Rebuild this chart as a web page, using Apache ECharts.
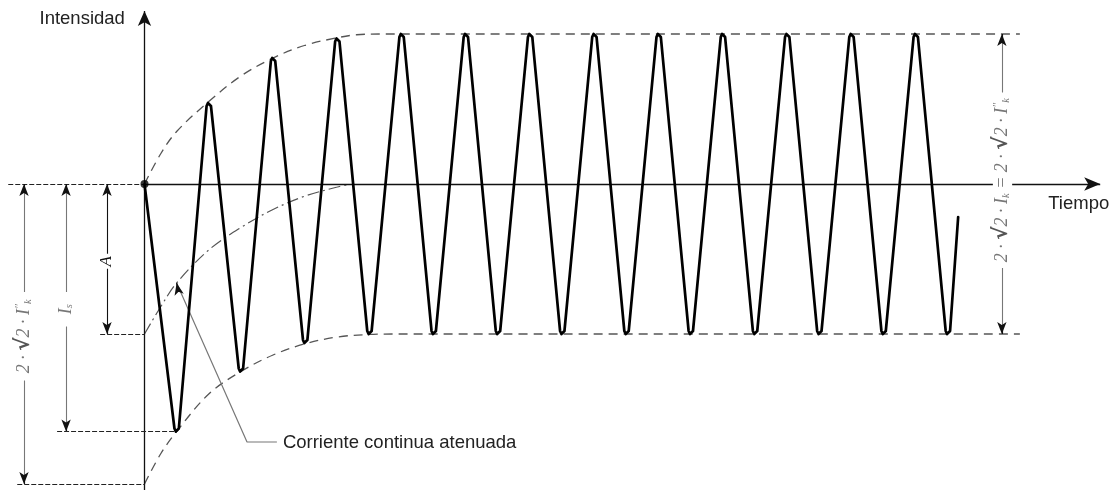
<!DOCTYPE html>
<html>
<head>
<meta charset="utf-8">
<script src="https://cdn.jsdelivr.net/npm/echarts@6/dist/echarts.min.js"></script>
<style>
  html, body { margin: 0; padding: 0; background: #fff; }
  #grafico { width: 1111px; height: 493px; }
</style>
</head>
<body>
<div id="grafico"></div>
<script>
// Tiempo en ciclos de red; intensidad referida a la amplitud √2·I″k de la componente alterna.

// Corriente de cortocircuito (máximos y mínimos de cada semiciclo)
const tiempoCorriente = [0, 0.5, 1, 1.5, 2, 2.5, 3, 3.5, 4, 4.5, 5, 5.5, 6, 6.5, 7, 7.5, 8, 8.5, 9, 9.5, 10, 10.5, 11, 11.5, 12, 12.5, 12.66];
const corriente = [0, -1.65, 0.54, -1.25, 0.84, -1.06, 0.97, -1.0, 1.0, -1.0, 1.0, -1.0, 1.0, -1.0, 1.0, -1.0, 1.0, -1.0, 1.0, -1.0, 1.0, -1.0, 1.0, -1.0, 1.0, -1.0, -0.22];

// Envolvente superior
const tiempoEnvSup = [0, 0.25, 0.5, 1, 1.5, 2, 2.5, 3, 3.3, 3.7, 13.62];
const envolventeSup = [0, 0.2, 0.35, 0.55, 0.72, 0.84, 0.925, 0.975, 0.995, 1.0, 1.0];

// Envolvente inferior
const tiempoEnvInf = [0, 0.25, 0.5, 1, 1.5, 2, 2.5, 3, 3.5, 3.9, 13.62];
const envolventeInf = [-2.0, -1.8, -1.65, -1.4, -1.25, -1.14, -1.065, -1.02, -1.003, -1.0, -1.0];

// Corriente continua atenuada
const tiempoContinua = [0, 0.25, 0.5, 1, 1.5, 2, 2.5, 3, 3.2];
const continua = [-1.0, -0.82, -0.66, -0.44, -0.29, -0.17, -0.08, -0.02, 0];

// Textos
const tituloEjeY = 'Intensidad';
const tituloEjeX = 'Tiempo';
const textoContinua = 'Corriente continua atenuada';

const pares = (xs, ys) => xs.map((x, i) => [x, ys[i]]);

// Cada máximo/mínimo intermedio se dibuja con una punta roma: un arco corto
// de cuatro vértices alrededor del valor extremo.
const PUNTA_ANCHO = [0.034, 0.013];
const PUNTA_CAIDA = 0.02;
function trazoConPuntas(xs, ys) {
  const out = [];
  xs.forEach((x, i) => {
    const y = ys[i];
    if (i === 0 || i === xs.length - 1) { out.push([x, y]); return; }
    const s = y > ys[i - 1] ? -1 : 1;
    out.push(
      [x - PUNTA_ANCHO[0], y + s * PUNTA_CAIDA],
      [x - PUNTA_ANCHO[1], y],
      [x + PUNTA_ANCHO[1], y],
      [x + PUNTA_ANCHO[0], y + s * PUNTA_CAIDA]
    );
  });
  return out;
}

// Valores acotados, tomados de las propias curvas
const valorA = continua[0];
const valorIs = Math.min(...corriente);
const valorPico = envolventeInf[0];
const valorSup = envolventeSup[envolventeSup.length - 1];
const valorInf = envolventeInf[envolventeInf.length - 1];
const puntaGuia = [tiempoContinua[2], continua[2]];

// Posición horizontal de las cotas (en ciclos)
const xCotaA = -0.583, xCotaIs = -1.22, xCotaPico = -1.875, xCotaDer = 13.34;
const finRef = { cero: -2.12, A: -0.69, Is: -1.36, pico: -1.98 };

const NEGRO = '#111', GRIS = '#777';
const lineaEje = { color: NEGRO, width: 1.3, type: 'solid' };
const lineaRef = { color: '#222', width: 1, type: [5, 2] };
const lineaCotaNegra = { color: NEGRO, width: 1.1, type: 'solid' };
const lineaCotaGris = { color: GRIS, width: 1.1, type: 'solid' };
const FLECHA = [7, 12];
const PUNTA = 0.05;

function tramo(a, b, estilo, s0, s1, tam) {
  return [
    { coord: a, symbol: s0 || 'none', symbolSize: tam || FLECHA, lineStyle: estilo },
    { coord: b, symbol: s1 || 'none', symbolSize: tam || FLECHA }
  ];
}

// Cota vertical con hueco para el rótulo entre hueco1 y hueco2
function cota(x, arriba, abajo, hueco1, hueco2, estilo) {
  return [
    tramo([x, hueco1], [x, arriba], estilo),
    tramo([x, hueco2], [x, abajo], estilo),
    tramo([x, arriba - PUNTA], [x, arriba], lineaCotaNegra, 'none', 'arrow'),
    tramo([x, abajo + PUNTA], [x, abajo], lineaCotaNegra, 'none', 'arrow')
  ];
}

const lineasAnotacion = [
  // ejes
  tramo([0, -2.04], [0, 1.153], lineaEje, 'none', 'arrow', [10, 15]),
  tramo([0, 0], [13.2, 0], lineaEje),
  tramo([13.5, 0], [14.87, 0], lineaEje, 'none', 'arrow', [10, 16]),
  // líneas de referencia a la izquierda
  tramo([finRef.cero, 0], [0, 0], lineaRef),
  tramo([finRef.A, valorA], [0, valorA], lineaRef),
  tramo([finRef.Is, valorIs], [tiempoCorriente[1], valorIs], lineaRef),
  tramo([finRef.pico, valorPico], [0, valorPico], lineaRef),
  // cotas
  ...cota(xCotaA, 0, valorA, -0.465, -0.565, lineaCotaNegra),
  ...cota(xCotaIs, 0, valorIs, -0.72, -0.95, lineaCotaGris),
  ...cota(xCotaPico, 0, valorPico, -0.72, -1.31, lineaCotaGris),
  ...cota(xCotaDer, valorSup, valorInf, 0.61, -0.56, lineaCotaGris),
  // flecha de la guía
  tramo([puntaGuia[0] + 0.03, puntaGuia[1] - 0.06], puntaGuia, lineaCotaNegra, 'none', 'arrow')
];

const guia = [puntaGuia, [1.595, -1.72], [2.06, -1.72]];

const chart = echarts.init(document.getElementById('grafico'), null, { renderer: 'canvas' });

const envolvente = { color: '#555', width: 1.3, type: [9, 6] };

chart.setOption({
  animation: false,
  backgroundColor: '#fff',
  grid: { left: 0, right: 0, top: 0, bottom: 0 },
  xAxis: { type: 'value', min: -2.2483, max: 15.038, show: false },
  yAxis: { type: 'value', min: -2.06, max: 1.2267, show: false },
  series: [
    {
      type: 'line', name: 'Envolvente superior', data: pares(tiempoEnvSup, envolventeSup),
      smooth: 0.35, showSymbol: false, silent: true, lineStyle: envolvente, z: 2
    },
    {
      type: 'line', name: 'Envolvente inferior', data: pares(tiempoEnvInf, envolventeInf),
      smooth: 0.35, showSymbol: false, silent: true, lineStyle: envolvente, z: 2
    },
    {
      type: 'line', name: textoContinua, data: pares(tiempoContinua, continua),
      smooth: 0.35, showSymbol: false, silent: true,
      lineStyle: { color: '#555', width: 1.2, type: [12, 4, 2, 4] }, z: 2
    },
    {
      type: 'line', name: 'Guía', data: guia, showSymbol: false, silent: true,
      lineStyle: { color: GRIS, width: 1.2 }, z: 3
    },
    {
      type: 'line', name: 'Anotaciones', data: [], silent: true, z: 4,
      markLine: {
        silent: true, animation: false, precision: 4,
        label: { show: false }, emphasis: { disabled: true },
        data: lineasAnotacion
      }
    },
    {
      type: 'line', name: tituloEjeY, data: trazoConPuntas(tiempoCorriente, corriente),
      smooth: false, showSymbol: false, silent: true,
      lineStyle: { color: '#000', width: 2.7, join: 'round', cap: 'round' }, z: 5
    },
    {
      type: 'scatter', name: 'Origen', data: [[tiempoCorriente[0], corriente[0]]],
      symbolSize: 8, itemStyle: { color: '#000' }, silent: true, z: 6
    }
  ]
});

// Textos: títulos y rótulos de cota
const px = (p) => chart.convertToPixel({ gridIndex: 0 }, p);
const fuente = '"Liberation Sans", Arial, sans-serif';
const serif = '"Liberation Serif", serif';
const rich = {
  m: { fontFamily: serif, fontStyle: 'italic', fontSize: 18, fill: GRIS },
  n: { fontFamily: serif, fontStyle: 'italic', fontSize: 17, fill: NEGRO },
  r: { fontFamily: '"DejaVu Sans", sans-serif', fontWeight: 'bold', fontSize: 20, fill: '#555' },
  p: { fontFamily: serif, fontStyle: 'italic', fontSize: 12, fill: GRIS, verticalAlign: 'top' },
  s: { fontFamily: serif, fontStyle: 'italic', fontSize: 10.5, fill: GRIS, verticalAlign: 'bottom' }
};

function textoGirado(p, texto) {
  const q = px(p);
  return {
    type: 'text', x: q[0], y: q[1], rotation: Math.PI / 2, silent: true,
    style: { text: texto, rich, align: 'center', verticalAlign: 'middle' }
  };
}

function textoPlano(x, y, texto) {
  return {
    type: 'text', x, y, silent: true,
    style: { text: texto, fontFamily: fuente, fontSize: 18.5, fill: '#222', align: 'left', verticalAlign: 'middle' }
  };
}

const pIntensidad = px([0, 1.153]);
const pTiempo = px([14.87, 0]);
const pGuia = px(guia[2]);

chart.setOption({
  graphic: [
    textoPlano(pIntensidad[0] - 105, pIntensidad[1] + 8, tituloEjeY),
    textoPlano(pTiempo[0] - 52, pTiempo[1] + 20, tituloEjeX),
    textoPlano(pGuia[0] + 6, pGuia[1] + 1, textoContinua),
    textoGirado([xCotaA, -0.515], '{n|A}'),
    textoGirado([xCotaIs, -0.835], '{m|I}{s|s}'),
    textoGirado([xCotaPico, -1.015], '{m|2 · }{r|√}{m|2 · I}{p|″}{s|k}'),
    textoGirado([xCotaDer, 0.025], '{m|2 · }{r|√}{m|2 · I}{s|k}{m| = 2 · }{r|√}{m|2 · I}{p|″}{s|k}')
  ]
});
</script>
</body>
</html>
